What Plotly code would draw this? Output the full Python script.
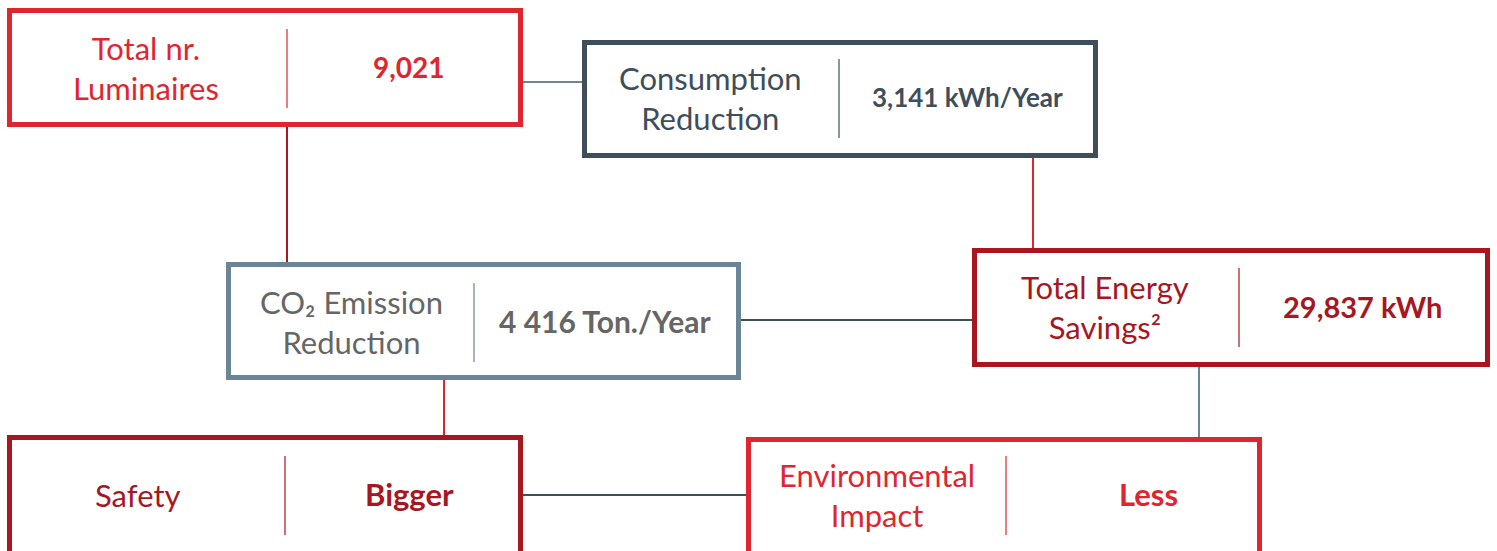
import plotly.graph_objects as go

# ---- data ----
labels = ["Total nr.<br>Luminaires", "Consumption<br>Reduction", "CO\u2082 Emission<br>Reduction",
          "Total Energy<br>Savings\u00b2", "Safety", "Environmental<br>Impact"]
values = ["9,021", "3,141 kWh/Year", "4 416 Ton./Year", "29,837 kWh", "Bigger", "Less"]

RED = "#DF2630"
DARKRED = "#A8161F"
SLATE = "#3E4E5A"
STEEL = "#6A8594"
GREY = "#666666"

border_colors = [RED, SLATE, STEEL, DARKRED, DARKRED, RED]
text_colors = [RED, SLATE, GREY, DARKRED, DARKRED, RED]
value_sizes = [28, 26, 30, 29, 31, 31]

# layout geometry (pixels): x0, x1, y0, y1, divider x, label x, value x, center y
boxes = [
    (9.5, 520.5, 10.5, 124.5, 287, 146, 409, 68),
    (584.5, 1095.5, 42.5, 155.5, 839, 710, 967, 98),
    (228.5, 738.5, 264.5, 377.5, 474, 351, 605, 322),
    (974.5, 1487.5, 250.5, 364.5, 1239, 1105, 1362, 307),
    (9.5, 520.5, 437.5, 556, 285, 138, 409, 495),
    (748.5, 1259.5, 439.5, 556, 1006, 877, 1148, 495),
]

connectors = [
    ((523, 582), (82, 82), STEEL),
    ((287, 287), (127, 262), DARKRED),
    ((1033, 1033), (158, 248), RED),
    ((741, 972), (320, 320), SLATE),
    ((444, 444), (380, 435), RED),
    ((1199, 1199), (367, 437), STEEL),
    ((523, 746), (495, 495), SLATE),
]

fig = go.Figure()
shapes = []
annotations = []

for (xs, ys, c) in connectors:
    shapes.append(dict(type="line", xref="x", yref="y", x0=xs[0], x1=xs[1], y0=ys[0], y1=ys[1],
                       line=dict(color=c, width=2), layer="below"))

FONT = "Lato"
for i, (x0, x1, y0, y1, dx, lx, vx, cy) in enumerate(boxes):
    shapes.append(dict(type="rect", xref="x", yref="y", x0=x0, x1=x1, y0=y0, y1=y1,
                       line=dict(color=border_colors[i], width=5), fillcolor="white", layer="above"))
    shapes.append(dict(type="line", xref="x", yref="y", x0=dx, x1=dx, y0=cy - 39, y1=cy + 40,
                       line=dict(color=border_colors[i], width=1.5), opacity=0.8, layer="above"))
    annotations.append(dict(x=lx, y=cy, xref="x", yref="y", text=labels[i], showarrow=False,
                            font=dict(family=FONT, size=31, color=text_colors[i]),
                            align="center", xanchor="center", yanchor="middle"))
    annotations.append(dict(x=vx, y=cy - 1, xref="x", yref="y", text="<b>" + values[i] + "</b>", showarrow=False,
                            font=dict(family=FONT, size=value_sizes[i], color=text_colors[i]),
                            align="center", xanchor="center", yanchor="middle"))

fig.add_trace(go.Scatter(x=[0, 1497], y=[0, 551], mode="markers", marker=dict(opacity=0),
                         hoverinfo="skip", showlegend=False))

fig.update_layout(
    width=1497, height=551,
    margin=dict(l=0, r=0, t=0, b=0),
    paper_bgcolor="white", plot_bgcolor="white",
    xaxis=dict(range=[0, 1497], visible=False, fixedrange=True),
    yaxis=dict(range=[551, 0], visible=False, fixedrange=True),
    shapes=shapes, annotations=annotations, showlegend=False,
)
fig.write_html("out.html", config={"displayModeBar": False},
               post_script="document.body.style.margin='0';document.body.style.overflow='hidden';")
